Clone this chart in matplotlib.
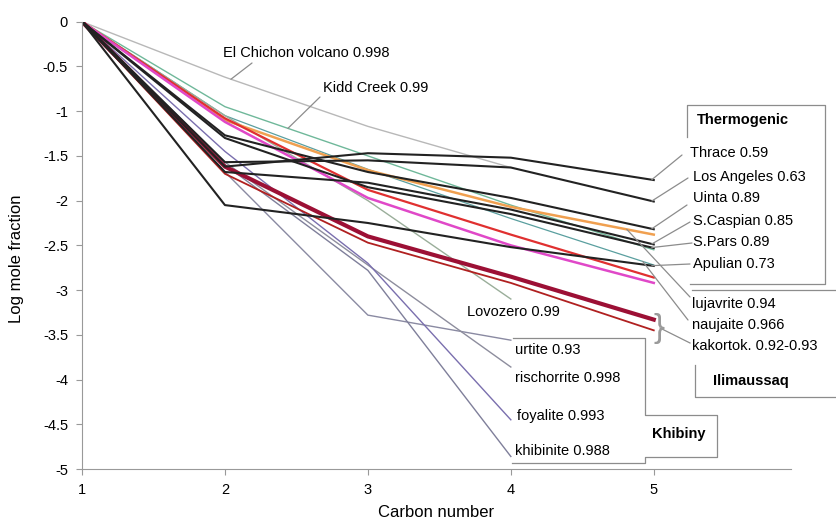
import numpy as np
import matplotlib
matplotlib.use("Agg")
import matplotlib.pyplot as plt
from matplotlib.lines import Line2D

plt.rcParams['font.family'] = ['Liberation Sans', 'DejaVu Sans']

# ---------------- data ----------------
carbon = [1, 2, 3, 4, 5]
carbon4 = [1, 2, 3, 4]

# Thermogenic (black)
thrace = [0, -1.62, -1.47, -1.52, -1.77]
los_angeles = [0, -1.57, -1.55, -1.63, -2.01]
uinta = [0, -1.27, -1.68, -1.97, -2.32]
s_caspian = [0, -1.68, -1.80, -2.10, -2.49]
s_pars = [0, -1.30, -1.85, -2.15, -2.53]
apulian = [0, -2.05, -2.25, -2.52, -2.73]

# Ilimaussaq
lujavrite = [0, -1.10, -1.66, -2.07, -2.38]
naujaite = [0, -1.05, -1.65, -2.20, -2.72]
kakortok_a = [0, -1.62, -2.40, -2.85, -3.33]
kakortok_b = [0, -1.70, -2.47, -2.92, -3.45]
red_line = [0, -1.08, -1.88, -2.38, -2.86]
pink_line = [0, -1.12, -1.97, -2.50, -2.92]

# Other
el_chichon = [0, -0.62, -1.17, -1.63]
kidd_creek = [0, -0.95, -1.50, -2.05, -2.55]
lovozero = [0, -1.05, -2.00, -3.10]

# Khibiny (C1-C4)
urtite = [0, -1.68, -3.28, -3.56]
rischorrite = [0, -1.57, -2.72, -3.86]
foyalite = [0, -1.45, -2.70, -4.45]
khibinite = [0, -1.60, -2.78, -4.86]

xticks = [1, 2, 3, 4, 5]
yticks = [0, -0.5, -1, -1.5, -2, -2.5, -3, -3.5, -4, -4.5, -5]
ytick_labels = ['0', '-0.5', '-1', '-1.5', '-2', '-2.5', '-3', '-3.5', '-4', '-4.5', '-5']

# ---------------- figure ----------------
W, H = 836, 524
fig = plt.figure(figsize=(W / 100, H / 100), dpi=100)
ax = fig.add_axes([82 / W, 1 - 469 / H, (791 - 82) / W, (469 - 21.7) / H])

# thin lines
ax.plot(carbon4, el_chichon, color='#b8b8b8', lw=1.0)
ax.plot(carbon, kidd_creek, color='#6fb89a', lw=1.0)
ax.plot(carbon, naujaite, color='#5a9f9f', lw=0.9)
ax.plot(carbon4, lovozero, color='#9aae9a', lw=1.0)
ax.plot(carbon4, urtite, color='#8a8aa2', lw=1.0)
ax.plot(carbon4, rischorrite, color='#8d8d9d', lw=1.0)
ax.plot(carbon4, foyalite, color='#7a6fae', lw=1.0)
ax.plot(carbon4, khibinite, color='#7f7f9a', lw=1.0)

# coloured
ax.plot(carbon, lujavrite, color='#f0a050', lw=1.8)
ax.plot(carbon, red_line, color='#e03030', lw=1.6)
ax.plot(carbon, pink_line, color='#e048c8', lw=1.8)
ax.plot(carbon, kakortok_b, color='#b02020', lw=1.3)
ax.plot(carbon, kakortok_a, color='#9c1035', lw=3.0)

# thermogenic black
for s in [thrace, los_angeles, uinta, s_caspian, s_pars, apulian]:
    ax.plot(carbon, s, color='#222222', lw=1.5)

ax.set_xlim(1, 5.96)
ax.set_ylim(-5, 0)
ax.set_xticks(xticks)
ax.set_xticklabels([str(t) for t in xticks], fontsize=10.5)
ax.set_yticks(yticks)
ax.set_yticklabels(ytick_labels, fontsize=10.5)
for sp in ['top', 'right']:
    ax.spines[sp].set_visible(False)
for sp in ['left', 'bottom']:
    ax.spines[sp].set_color('#999999')
ax.tick_params(direction='out', length=4, color='#999999', pad=6)
ax.set_xlabel('Carbon number', fontsize=12, labelpad=6)
ax.set_ylabel('Log mole fraction', fontsize=12)
ax.yaxis.set_label_coords(-0.082, 0.47)


def dx(px):
    return 1 + (px - 82) / 143.0


def ftext(px, py, s, **kw):
    fig.text(px / W, 1 - py / H, s, ha='left', va='center', fontsize=10.5, **kw)


def leader(px, py, tx, series, xs):
    ax.annotate('', xy=(dx(tx), np.interp(dx(tx), xs, series)), xycoords='data',
                xytext=(px, H - py), textcoords='figure pixels',
                arrowprops=dict(arrowstyle='-', color='#8c8c8c', lw=0.9,
                                shrinkA=0, shrinkB=0),
                annotation_clip=False)


def fline(pts, color='#8c8c8c', lw=0.9):
    xs = [p[0] / W for p in pts]
    ys = [1 - p[1] / H for p in pts]
    fig.add_artist(Line2D(xs, ys, transform=fig.transFigure, color=color, lw=lw))


# El Chichon / Kidd Creek
ftext(223, 53, 'El Chichon volcano 0.998')
leader(252, 63, 231, el_chichon, carbon4)
ftext(323, 88, 'Kidd Creek 0.99')
leader(320, 97, 288, kidd_creek, carbon)

# Thermogenic box
fline([(687, 137), (687, 105), (825, 105), (825, 284), (690, 284)])
ftext(697, 120, 'Thermogenic', fontweight='bold')
therm = [('Thrace 0.59', 690, 153, 682, 155, thrace),
         ('Los Angeles 0.63', 693, 177, 688, 178, los_angeles),
         ('Uinta 0.89', 693, 198, 687, 205, uinta),
         ('S.Caspian 0.85', 693, 221, 690, 222, s_caspian),
         ('S.Pars 0.89', 693, 242, 692, 243, s_pars),
         ('Apulian 0.73', 693, 264, 690, 264, apulian)]
for lab, tx, ty, lx, ly, ser in therm:
    ftext(tx, ty, lab)
    leader(lx, ly, 652, ser, carbon)

# Ilimaussaq
fline([(692, 290), (836, 290)])
ftext(692, 304, 'lujavrite 0.94')
leader(690, 297, 627, lujavrite, carbon)
ftext(692, 325, 'naujaite 0.966')
leader(688, 320, 643, naujaite, carbon)
ftext(692, 346, 'kakortok. 0.92-0.93')
fline([(660, 328), (690, 343)])
fig.text(653 / W, 1 - 329 / H, '}', ha='left', va='center', fontsize=24,
         color='#9a9a9a', fontweight='light')
fline([(695, 365), (695, 397), (836, 397)])
ftext(713, 381, 'Ilimaussaq', fontweight='bold')

# Lovozero
ftext(467, 312, 'Lovozero 0.99')

# Khibiny
ftext(515, 350, 'urtite 0.93')
ftext(515, 378, 'rischorrite 0.998')
ftext(517, 416, 'foyalite 0.993')
ftext(515, 451, 'khibinite 0.988')
fline([(513, 338), (645, 338), (645, 415), (717, 415), (717, 457),
       (645, 457), (645, 463), (512, 463)])
ftext(652, 434, 'Khibiny', fontweight='bold')

fig.savefig('out.png', dpi=100)
